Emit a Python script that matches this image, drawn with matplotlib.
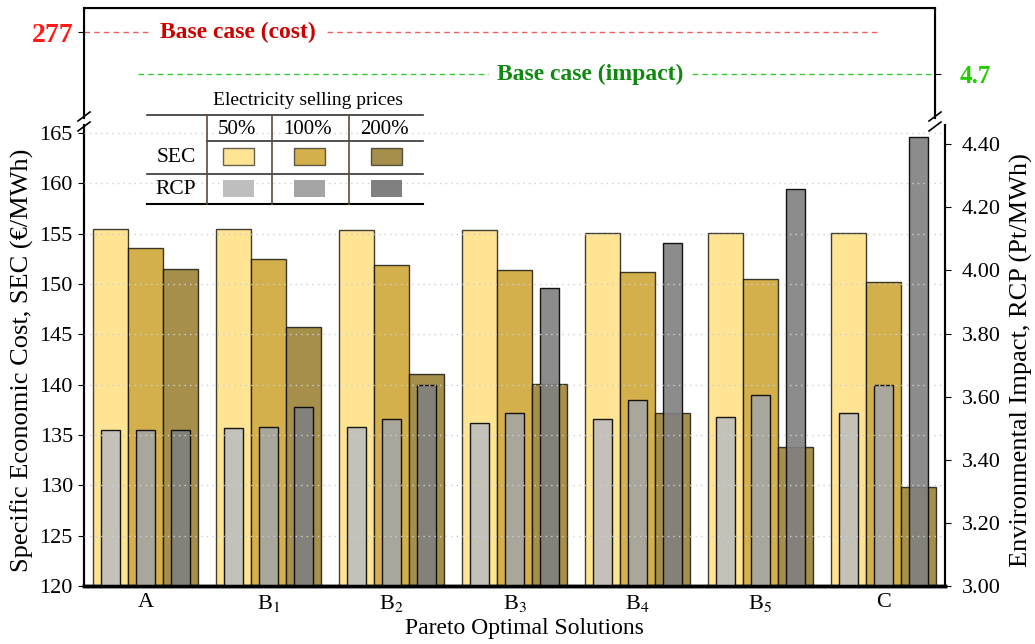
import matplotlib
matplotlib.use('Agg')
import matplotlib.pyplot as plt
import numpy as np
from matplotlib.patches import Rectangle
from matplotlib.transforms import blended_transform_factory

plt.rcParams['font.family'] = ['Liberation Serif', 'DejaVu Serif']
plt.rcParams['mathtext.fontset'] = 'stix'

# data
solutions = ['A', 'B$_1$', 'B$_2$', 'B$_3$', 'B$_4$', 'B$_5$', 'C']
prices = ['50%', '100%', '200%']
sec_50 = [155.5, 155.5, 155.4, 155.4, 155.1, 155.1, 155.1]
sec_100 = [153.6, 152.5, 151.9, 151.4, 151.2, 150.5, 150.2]
sec_200 = [151.5, 145.7, 141.05, 140.1, 137.15, 133.8, 129.85]
rcp_50 = [3.493, 3.500, 3.505, 3.517, 3.528, 3.535, 3.547]
rcp_100 = [3.493, 3.505, 3.528, 3.547, 3.589, 3.604, 3.638]
rcp_200 = [3.493, 3.566, 3.638, 3.944, 4.087, 4.258, 4.422]
base_cost = 277
base_impact = 4.7

sec_colors = ['#FFE494', '#D4B04C', '#A58F4B']
rcp_colors = ['#BEBEBE', '#A5A5A5', '#808080']

W, H = 1035, 644
def fx(p):
    return p / W
def fy(p):
    return 1 - p / H

fig = plt.figure(figsize=(10.35, 6.44), dpi=100)

ax = fig.add_axes([fx(84), fy(586), fx(945) - fx(84), fy(125) - fy(586)])
ax2 = ax.twinx()
ax_top = fig.add_axes([fx(84), fy(118), fx(935) - fx(84), fy(8) - fy(118)])

x = np.arange(len(solutions))
offsets = [-0.285, 0.0, 0.285]
sec = [sec_50, sec_100, sec_200]
rcp = [rcp_50, rcp_100, rcp_200]

for i in range(3):
    ax.bar(x + offsets[i], sec[i], width=0.285, color=sec_colors[i],
           edgecolor=(0, 0, 0, 0.75), linewidth=1.0, zorder=2)
for i in range(3):
    ax2.bar(x + offsets[i], rcp[i], width=0.15, color=rcp_colors[i], alpha=0.9,
            edgecolor='black', linewidth=1.0, zorder=2)

ax.set_xlim(-0.5, 6.5)
ax.set_ylim(120, 165.8)
ax2.set_ylim(3.0, 4.461)
ax.set_yticks([120, 125, 130, 135, 140, 145, 150, 155, 160, 165])
ax2.set_yticks([3.0, 3.2, 3.4, 3.6, 3.8, 4.0, 4.2, 4.4])
ax2.set_yticklabels(['%.2f' % v for v in ax2.get_yticks()])
ax.set_xticks(x)
ax.set_xticklabels(solutions)

# grid on top of the bars
gt = blended_transform_factory(ax2.transAxes, ax.transData)
for v in [125, 130, 135, 140, 145, 150, 155, 160, 165]:
    ax2.plot([0, 1], [v, v], transform=gt, color='#cfcfcf', lw=1.0,
             ls=(0, (1, 3)), zorder=3)

ax.tick_params(axis='x', length=0, labelsize=16, pad=5)
ax.tick_params(axis='y', direction='out', length=4, labelsize=16, pad=4)
ax2.tick_params(axis='y', direction='out', length=4, labelsize=16, pad=8)

for a in (ax, ax2):
    a.spines['top'].set_visible(False)
    a.spines['left'].set_linewidth(1.5)
    a.spines['right'].set_linewidth(1.5)
    a.spines['bottom'].set_linewidth(2.5)

ax.set_ylabel('Specific Economic Cost, SEC (€/MWh)', fontsize=19)
ax.yaxis.set_label_coords(-0.058, 0.49)
ax2.set_ylabel('Environmental Impact, RCP (Pt/MWh)', fontsize=19)
ax2.yaxis.set_label_coords(1.075, 0.49)
ax.set_xlabel('Pareto Optimal Solutions', fontsize=17)
ax.xaxis.set_label_coords(0.512, -0.07)

# top panel with base cases
ax_top.set_xlim(0, 1)
ax_top.set_ylim(0, 1)
ax_top.spines['bottom'].set_visible(False)
for s in ('left', 'right', 'top'):
    ax_top.spines[s].set_linewidth(1.5)
ax_top.set_xticks([])
y_cost, y_imp = 0.78, 0.40
ax_top.set_yticks([y_cost])
ax_top.set_yticklabels([str(base_cost)], color='#FF1A1A', fontweight='bold', fontsize=20)
ax_top.tick_params(axis='y', length=4)
ax_top_r = ax_top.twinx()
ax_top_r.set_ylim(0, 1)
ax_top_r.set_yticks([y_imp])
ax_top_r.set_yticklabels([str(base_impact)], color='#22CC00', fontweight='bold', fontsize=18)
ax_top_r.tick_params(axis='y', length=4, pad=14)
ax_top_r.spines['bottom'].set_visible(False)

ax_top.plot([0, 0.934], [y_cost, y_cost], color='#F06060', lw=1.0, ls=(0, (4, 3)))
ax_top.plot([0.0635, 1], [y_imp, y_imp], color='#33CC33', lw=1.0, ls=(0, (4, 3)))
ax_top.text(0.181, y_cost, 'Base case (cost)', color='#CC0000', fontsize=17,
            fontweight='bold', ha='center', va='center',
            bbox=dict(fc='white', ec='none', pad=6))
ax_top.text(0.595, y_imp, 'Base case (impact)', color='#118811', fontsize=17,
            fontweight='bold', ha='center', va='center',
            bbox=dict(fc='white', ec='none', pad=6))

# overlay for legend table and axis breaks (pixel coordinates)
ov = fig.add_axes([0, 0, 1, 1])
ov.set_xlim(0, W)
ov.set_ylim(H, 0)
ov.axis('off')
ov.patch.set_alpha(0)

for xs, ys in [((78, 90), (121, 112)), ((78, 90), (131, 122)),
               ((929, 941), (121, 112)), ((929, 941), (131, 122))]:
    ov.plot(xs, ys, color='black', lw=1.2)

tx0, tx1 = 147, 423
ov.text(308, 100, 'Electricity selling prices', fontsize=14, ha='center', va='center')
ov.plot([tx0, tx1], [115, 115], color='#333333', lw=1.2)
ov.plot([207, tx1], [141, 141], color='#333333', lw=1.2)
ov.plot([tx0, tx1], [173.5, 173.5], color='#333333', lw=1.2)
ov.plot([tx0, tx1], [204, 204], color='black', lw=1.5)
for vx in [207, 272, 349]:
    ov.plot([vx, vx], [115, 204], color='#5C4A3A', lw=1.2)
for cx, lab in zip([237, 307, 384], prices):
    ov.text(cx, 129, lab, fontsize=15, ha='center', va='center')
ov.text(176, 157, 'SEC', fontsize=15.5, ha='center', va='center')
ov.text(176, 189, 'RCP', fontsize=15.5, ha='center', va='center')
for sx, cs, cr in zip([223, 294, 371], sec_colors, rcp_colors):
    ov.add_patch(Rectangle((sx, 148), 31, 17, fc=cs, ec=(0, 0, 0, 0.6), lw=1))
    ov.add_patch(Rectangle((sx, 180), 31, 17, fc=cr, ec='none'))

fig.savefig('out.png', dpi=100)
